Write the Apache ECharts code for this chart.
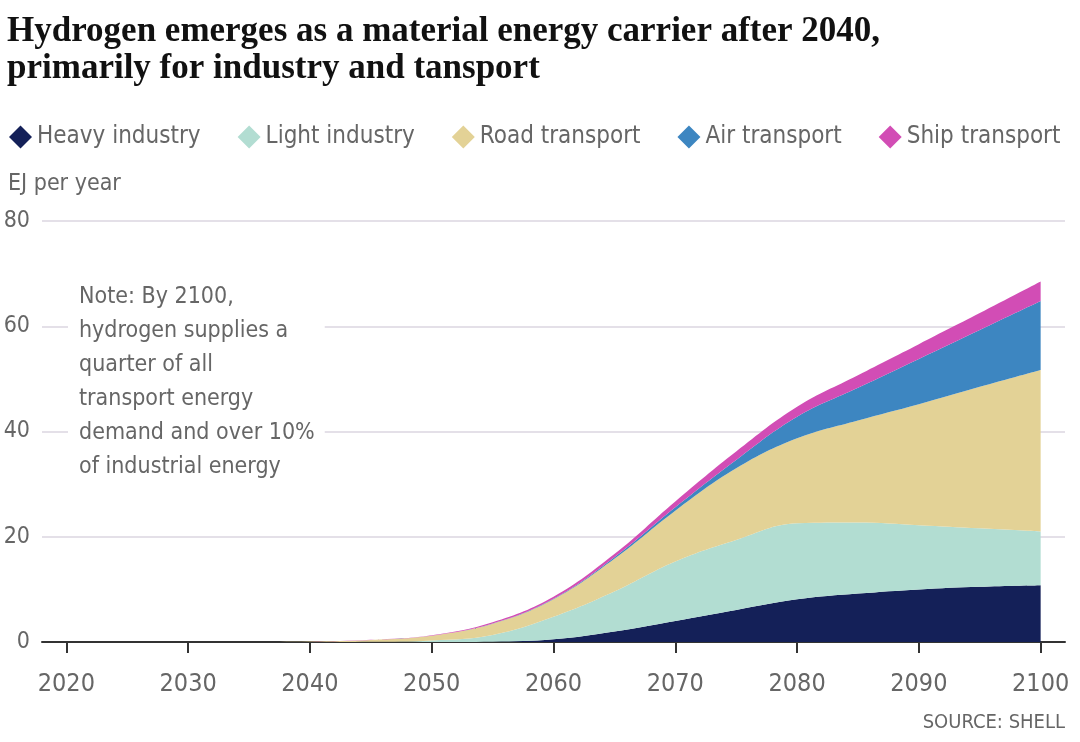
<!DOCTYPE html>
<html>
<head>
<meta charset="utf-8">
<script src="https://cdn.jsdelivr.net/npm/echarts@6/dist/echarts.min.js"></script>
<style>
html,body{margin:0;padding:0;background:#fff;}
#chart{width:1080px;height:742px;}
</style>
</head>
<body>
<div id="chart"></div>
<script>
// ---- data (EJ per year) ----
const years = [2020, 2025, 2030, 2035, 2040, 2045, 2050, 2055, 2060, 2065, 2070, 2075, 2080, 2085, 2090, 2095, 2100];
const heavyIndustry = [0, 0, 0, 0, 0, 0, 0, 0.05, 0.5, 2.0, 4.0, 6.1, 8.1, 9.2, 10.0, 10.5, 10.8];
const lightIndustry = [0, 0, 0, 0, 0, 0.05, 0.3, 1.3, 4.3, 7.6, 11.3, 13.3, 14.45, 13.5, 12.2, 11.1, 10.2];
const roadTransport = [0, 0, 0, 0, 0.1, 0.35, 0.9, 2.1, 3.3, 6.2, 9.65, 13.6, 16.15, 19.4, 23.0, 26.9, 30.7];
const airTransport  = [0, 0, 0, 0, 0, 0, 0, 0.05, 0.1, 0.3, 0.65, 1.6, 4.1, 6.2, 8.6, 10.8, 13.1];
const shipTransport = [0, 0, 0, 0, 0, 0.02, 0.1, 0.25, 0.4, 0.6, 1.1, 1.6, 1.9, 2.4, 2.8, 3.2, 3.7];
const seriesNames = ['Heavy industry', 'Light industry', 'Road transport', 'Air transport', 'Ship transport'];
const xTicks = [2020, 2030, 2040, 2050, 2060, 2070, 2080, 2090, 2100];
const yTicks = [0, 20, 40, 60, 80];
const titleLines = ['Hydrogen emerges as a material energy carrier after 2040,', 'primarily for industry and tansport'];
const noteText = 'Note: By 2100,\nhydrogen supplies a\nquarter of all\ntransport energy\ndemand and over 10%\nof industrial energy';
const yAxisTitle = 'EJ per year';
const sourceText = 'SOURCE: SHELL';

const colors = ['#142058', '#b2ddd2', '#e3d296', '#3d86c1', '#d24db5'];
const allValues = [heavyIndustry, lightIndustry, roadTransport, airTransport, shipTransport];
const FONT = '"DejaVu Sans Condensed", "Liberation Sans Narrow", sans-serif';
const GRAY = '#666';

const chart = echarts.init(document.getElementById('chart'), null, {renderer: 'canvas'});

// data rows are [value, year]; encode maps them so the library stacks the values
const series = seriesNames.map((name, i) => ({
  name: name,
  type: 'line',
  stack: 'total',
  smooth: 0.4,
  showSymbol: false,
  symbol: 'none',
  encode: {x: 1, y: 0},
  lineStyle: {width: 0},
  areaStyle: {color: colors[i], opacity: 1},
  itemStyle: {color: colors[i]},
  emphasis: {disabled: true},
  data: years.map((y, k) => [allValues[i][k], y])
}));

chart.setOption({
  animation: false,
  backgroundColor: '#fff',
  legend: {
    left: 4,
    top: 120,
    icon: 'diamond',
    itemWidth: 23,
    itemHeight: 23,
    itemGap: 37,
    textStyle: {fontFamily: FONT, fontSize: 24, color: GRAY},
    data: seriesNames
  },
  grid: {left: 42, right: 15, top: 221, bottom: 100, containLabel: false},
  xAxis: {
    type: 'value',
    min: 2018,
    max: 2102,
    splitLine: {show: false},
    axisLine: {show: true, onZero: true, lineStyle: {color: '#333', width: 2}},
    axisTick: {show: true, length: 11, lineStyle: {color: '#333', width: 2}, customValues: xTicks},
    axisLabel: {
      customValues: xTicks,
      fontFamily: FONT, fontSize: 25, color: GRAY, margin: 30,
      formatter: v => String(v)
    }
  },
  yAxis: {
    type: 'value',
    min: yTicks[0],
    max: yTicks[yTicks.length - 1],
    interval: 20,
    axisLine: {show: false},
    axisTick: {show: false},
    splitLine: {show: true, lineStyle: {color: '#e4e0e8', width: 2}},
    axisLabel: {fontFamily: FONT, fontSize: 23, color: GRAY, margin: 12}
  },
  graphic: [
    {type: 'text', left: 7, top: 14, z: 100,
      style: {text: titleLines.join('\n'), font: 'bold 35px "Liberation Serif", "DejaVu Serif", serif', fill: '#111', lineHeight: 36.5}},
    {type: 'text', left: 8, top: 173, z: 100,
      style: {text: yAxisTitle, font: '23px ' + FONT, fill: GRAY}},
    {type: 'text', left: 68, top: 280, z: 100,
      style: {text: noteText, font: '23px ' + FONT, fill: GRAY, lineHeight: 34,
        backgroundColor: '#fff', padding: [0, 10, 0, 11]}},
    {type: 'text', right: 15, top: 713, z: 100,
      style: {text: sourceText, font: '20px ' + FONT, fill: GRAY}}
  ],
  series: series
});
</script>
</body>
</html>
